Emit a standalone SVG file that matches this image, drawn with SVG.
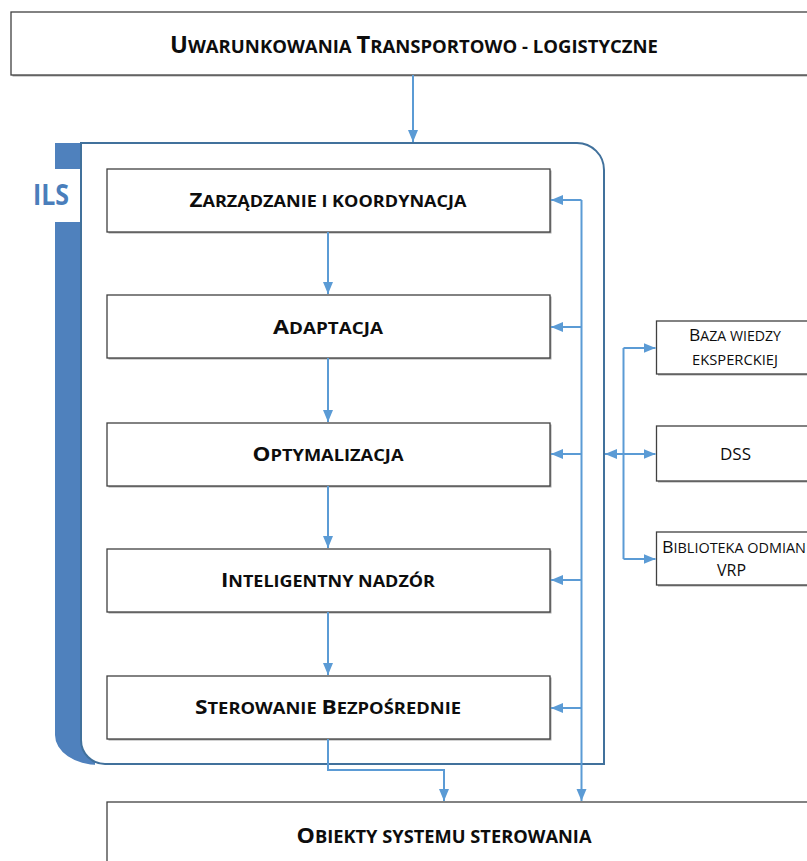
<svg xmlns="http://www.w3.org/2000/svg" width="807" height="861" viewBox="0 0 807 861">
  <defs>
    <style>
      .box { fill: #ffffff; stroke: #404040; stroke-width: 1.3; }
      .shadow { fill: #a6a6a6; }
      .t { font-family: "Open Sans", "Noto Sans", "Liberation Sans", sans-serif; fill: #0d0d0d; text-anchor: middle; }
      .big { font-size: 17.5px; font-weight: bold; }
      .big .c { font-size: 22.4px; }
      .ob { font-size: 17px; font-weight: bold; }
      .ob .c { font-size: 21.5px; }
      .mid { font-size: 15.2px; font-weight: bold; }
      .mid .c { font-size: 18.8px; }
      .small { font-size: 13.6px; font-weight: normal; }
      .small .c { font-size: 16.8px; }
      .conn { fill: none; stroke: #5b9bd5; stroke-width: 2; }
    </style>
    <marker id="arrow" markerUnits="userSpaceOnUse" markerWidth="13" markerHeight="11" refX="12" refY="5" orient="auto-start-reverse">
      <path d="M0,0 L12,5 L0,10 Z" fill="#5b9bd5"/>
    </marker>
  </defs>

  <!-- ILS frame: blue band with rounded lower corner, white panel on top -->
  <g id="ils-frame">
    <path d="M55,143 H95 V765 H99 A44,30 0 0 1 55,735 Z" fill="#4f81bd"/>
    <path d="M81,143 H577 A27,27 0 0 1 604,170 V764 H105 A24,24 0 0 1 81,740 Z" fill="#ffffff" stroke="#41719c" stroke-width="2"/>
    <rect x="50" y="169" width="30" height="53" fill="#ffffff"/>
    <text x="51" y="205" font-family="'Open Sans', 'Noto Sans', 'Liberation Sans', sans-serif" font-size="28.5" font-weight="bold" fill="#4a7ebb" text-anchor="middle" textLength="36" lengthAdjust="spacingAndGlyphs">ILS</text>
  </g>

  <!-- top conditions box; small-caps lettering set as two glyph sizes -->
  <g id="uwarunkowania">
    <rect class="shadow" x="12.5" y="13.5" width="804" height="63"/>
    <rect class="box" x="11" y="12" width="804" height="63"/>
    <text class="t big" x="414" y="53" textLength="488" lengthAdjust="spacingAndGlyphs"><tspan class="c">U</tspan>WARUNKOWANIA <tspan class="c">T</tspan>RANSPORTOWO - LOGISTYCZNE</text>
  </g>

  <g id="zarzadzanie">
    <rect class="shadow" x="108.5" y="170.5" width="443" height="63"/>
    <rect class="box" x="107" y="169" width="443" height="63"/>
    <text class="t mid" x="328" y="207" textLength="277" lengthAdjust="spacingAndGlyphs"><tspan class="c">Z</tspan>ARZĄDZANIE I KOORDYNACJA</text>
  </g>

  <g id="adaptacja">
    <rect class="shadow" x="108.5" y="296.5" width="443" height="63"/>
    <rect class="box" x="107" y="295" width="443" height="63"/>
    <text class="t mid" x="328" y="334" textLength="110" lengthAdjust="spacingAndGlyphs"><tspan class="c">A</tspan>DAPTACJA</text>
  </g>

  <g id="optymalizacja">
    <rect class="shadow" x="108.5" y="424.5" width="443" height="63"/>
    <rect class="box" x="107" y="423" width="443" height="63"/>
    <text class="t mid" x="328" y="461" textLength="151" lengthAdjust="spacingAndGlyphs"><tspan class="c">O</tspan>PTYMALIZACJA</text>
  </g>

  <g id="nadzor">
    <rect class="shadow" x="108.5" y="550.5" width="443" height="63"/>
    <rect class="box" x="107" y="549" width="443" height="63"/>
    <text class="t mid" x="328" y="587" textLength="214" lengthAdjust="spacingAndGlyphs"><tspan class="c">I</tspan>NTELIGENTNY NADZÓR</text>
  </g>

  <g id="sterowanie">
    <rect class="shadow" x="108.5" y="677.5" width="443" height="63"/>
    <rect class="box" x="107" y="676" width="443" height="63"/>
    <text class="t mid" x="328" y="714" textLength="266" lengthAdjust="spacingAndGlyphs"><tspan class="c">S</tspan>TEROWANIE <tspan class="c">B</tspan>EZPOŚREDNIE</text>
  </g>

  <g id="baza-wiedzy">
    <rect class="shadow" x="658" y="322.5" width="160" height="53"/>
    <rect class="box" x="656.5" y="321" width="160" height="53"/>
    <text class="t small" x="735" y="341" textLength="92" lengthAdjust="spacingAndGlyphs"><tspan class="c">B</tspan>AZA WIEDZY</text>
    <text class="t small" x="735" y="365" textLength="86" lengthAdjust="spacingAndGlyphs">EKSPERCKIEJ</text>
  </g>

  <g id="dss">
    <rect class="shadow" x="658" y="427.5" width="160" height="55"/>
    <rect class="box" x="656.5" y="426" width="160" height="55"/>
    <text class="t small" x="735.5" y="460" textLength="31" lengthAdjust="spacingAndGlyphs"><tspan class="c">DSS</tspan></text>
  </g>

  <g id="biblioteka-vrp">
    <rect class="shadow" x="658" y="533.5" width="160" height="53"/>
    <rect class="box" x="656.5" y="532" width="160" height="53"/>
    <text class="t small" x="734" y="553" textLength="144" lengthAdjust="spacingAndGlyphs"><tspan class="c">B</tspan>IBLIOTEKA ODMIAN</text>
    <text class="t small" x="731.5" y="576" textLength="29" lengthAdjust="spacingAndGlyphs"><tspan class="c">VRP</tspan></text>
  </g>

  <g id="obiekty">
    <rect class="shadow" x="108.5" y="803.5" width="710" height="70"/>
    <rect class="box" x="107" y="802" width="710" height="70"/>
    <text class="t ob" x="444" y="843" textLength="295" lengthAdjust="spacingAndGlyphs"><tspan class="c">O</tspan>BIEKTY SYSTEMU STEROWANIA</text>
  </g>

  <!-- connectors -->
  <g id="connectors" class="conn">
    <path d="M413,75 V142" marker-end="url(#arrow)"/>
    <path d="M328,232 V294" marker-end="url(#arrow)"/>
    <path d="M328,358 V422" marker-end="url(#arrow)"/>
    <path d="M328,486 V548" marker-end="url(#arrow)"/>
    <path d="M328,612 V675" marker-end="url(#arrow)"/>
    <path d="M328,739 V770 H444 V801" marker-end="url(#arrow)"/>
    <!-- feedback bus into every level and down to the controlled objects -->
    <path d="M581.5,200 V801" marker-end="url(#arrow)"/>
    <path d="M581.5,200 H551" marker-end="url(#arrow)"/>
    <path d="M581.5,327 H551" marker-end="url(#arrow)"/>
    <path d="M581.5,454 H551" marker-end="url(#arrow)"/>
    <path d="M581.5,580 H551" marker-end="url(#arrow)"/>
    <path d="M581.5,708 H551" marker-end="url(#arrow)"/>
    <!-- knowledge sources bus -->
    <path d="M623.5,348 V559"/>
    <path d="M623.5,348 H655.5" marker-end="url(#arrow)"/>
    <path d="M605,454 H655.5" marker-start="url(#arrow)" marker-end="url(#arrow)"/>
    <path d="M623.5,559 H655.5" marker-end="url(#arrow)"/>
  </g>
</svg>
